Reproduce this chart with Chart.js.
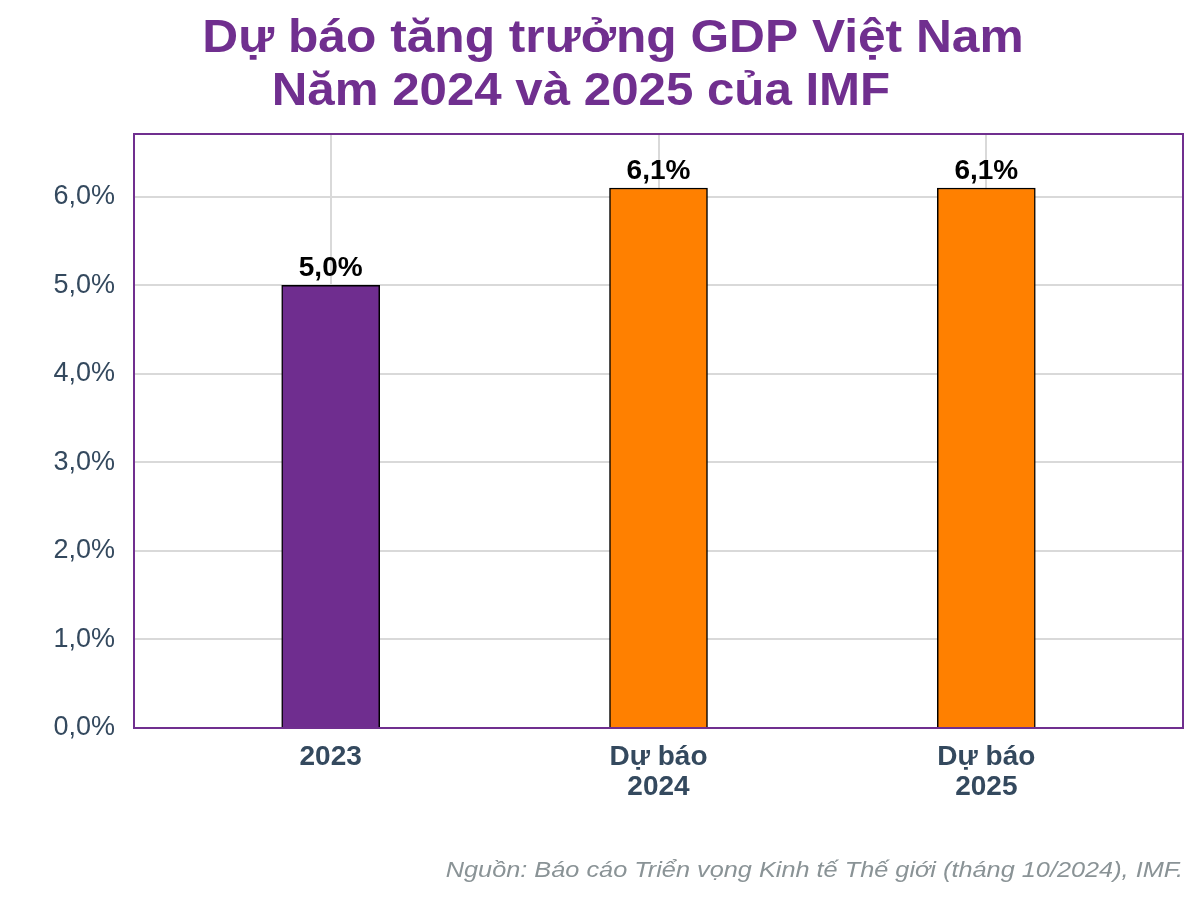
<!DOCTYPE html>
<html>
<head>
<meta charset="utf-8">
<script src="https://cdn.jsdelivr.net/npm/chart.js@4.4.1/dist/chart.umd.min.js"></script>
<style>
  html, body { margin: 0; padding: 0; background: #fff; }
  #wrap { width: 1200px; height: 900px; position: relative; }
</style>
</head>
<body>
<div id="wrap"><canvas id="gdpChart" width="1200" height="900"></canvas></div>
<script>
// Data
const categories = [["2023"], ["Dự báo", "2024"], ["Dự báo", "2025"]];
const growth = [5.0, 6.1, 6.1];
const barColors = ["#6F2D8F", "#FF8000", "#FF8000"];
const yTicks = [0, 1, 2, 3, 4, 5, 6];
const titleLines = ["Dự báo tăng trưởng GDP Việt Nam", "Năm 2024 và 2025 của IMF"];
const sourceText = "Nguồn: Báo cáo Triển vọng Kinh tế Thế giới (tháng 10/2024), IMF.";

const FONT = "'Liberation Sans', Arial, sans-serif";
const PURPLE = "#702F8F";

function fmt(v) {
    return v.toFixed(1).replace(".", ",") + "%";
}

// draws text squeezed/stretched horizontally around its anchor
function stretchText(ctx, text, x, y, sx) {
    ctx.save();
    ctx.translate(x, y);
    ctx.scale(sx, 1);
    ctx.fillText(text, 0, 0);
    ctx.restore();
}

// title, caption, plot frame and value labels
const decor = {
    id: "decor",
    afterDatasetsDraw(chart) {
        const ctx = chart.ctx;
        const meta = chart.getDatasetMeta(0);
        ctx.save();
        ctx.font = "bold 28px " + FONT;
        ctx.fillStyle = "#000";
        ctx.textAlign = "center";
        ctx.textBaseline = "alphabetic";
        meta.data.forEach(function (bar, i) {
            ctx.fillText(fmt(growth[i]), bar.x, bar.y - 9);
        });
        ctx.restore();
    },
    afterDraw(chart) {
        const ctx = chart.ctx;
        const a = chart.chartArea;
        ctx.save();
        // plot frame
        ctx.strokeStyle = PURPLE;
        ctx.lineWidth = 2;
        ctx.strokeRect(a.left, a.top, a.right - a.left, a.bottom - a.top);
        // title
        ctx.fillStyle = PURPLE;
        ctx.font = "bold 46px " + FONT;
        ctx.textAlign = "center";
        ctx.textBaseline = "alphabetic";
        stretchText(ctx, titleLines[0], 613, 52, 1.08);
        stretchText(ctx, titleLines[1], 581, 105, 1.07);
        // source
        ctx.fillStyle = "#8A9396";
        ctx.font = "italic 22px " + FONT;
        ctx.textAlign = "right";
        stretchText(ctx, sourceText, 1183, 877, 1.15);
        ctx.restore();
    }
};

const ctx = document.getElementById("gdpChart").getContext("2d");
const gdpChart = new Chart(ctx, {
    type: "bar",
    data: {
        datasets: [
            {
                data: growth.map(function (v, i) { return { x: i + 1, y: v }; }),
                backgroundColor: barColors,
                borderColor: "#000",
                borderWidth: 1.5,
                borderSkipped: "bottom",
                barThickness: 98,
            },
        ],
    },
    options: {
        responsive: false,
        animation: false,
        layout: {
            padding: { top: 134, left: 0, right: 17, bottom: 72 },
        },
        plugins: {
            legend: { display: false },
            tooltip: { enabled: false },
        },
        scales: {
            x: {
                type: "linear",
                min: 0.4,
                max: 3.6,
                offset: false,
                afterBuildTicks: function (scale) {
                    scale.ticks = categories.map(function (c, i) { return { value: i + 1 }; });
                },
                afterFit: function (scale) {
                    scale.height = 100;
                },
                grid: { color: "#D9D9D9", lineWidth: 2, drawTicks: false, offset: false },
                border: { display: false },
                ticks: {
                    autoSkip: false,
                    maxRotation: 0,
                    padding: 15,
                    color: "#34495E",
                    font: { family: FONT, size: 28, weight: "bold", lineHeight: 1.05 },
                    callback: function (v) {
                        return categories[v - 1];
                    },
                },
            },
            y: {
                min: 0,
                max: 6.71,
                afterBuildTicks: function (scale) {
                    scale.ticks = yTicks.map(function (v) { return { value: v }; });
                },
                afterFit: function (scale) {
                    scale.width = 134;
                },
                grid: { color: "#D9D9D9", lineWidth: 2, drawTicks: false },
                border: { display: false },
                ticks: {
                    padding: 19,
                    color: "#34495E",
                    font: { family: FONT, size: 27 },
                    callback: function (v) {
                        return fmt(v);
                    },
                },
            },
        },
    },
    plugins: [decor],
});
</script>
</body>
</html>
